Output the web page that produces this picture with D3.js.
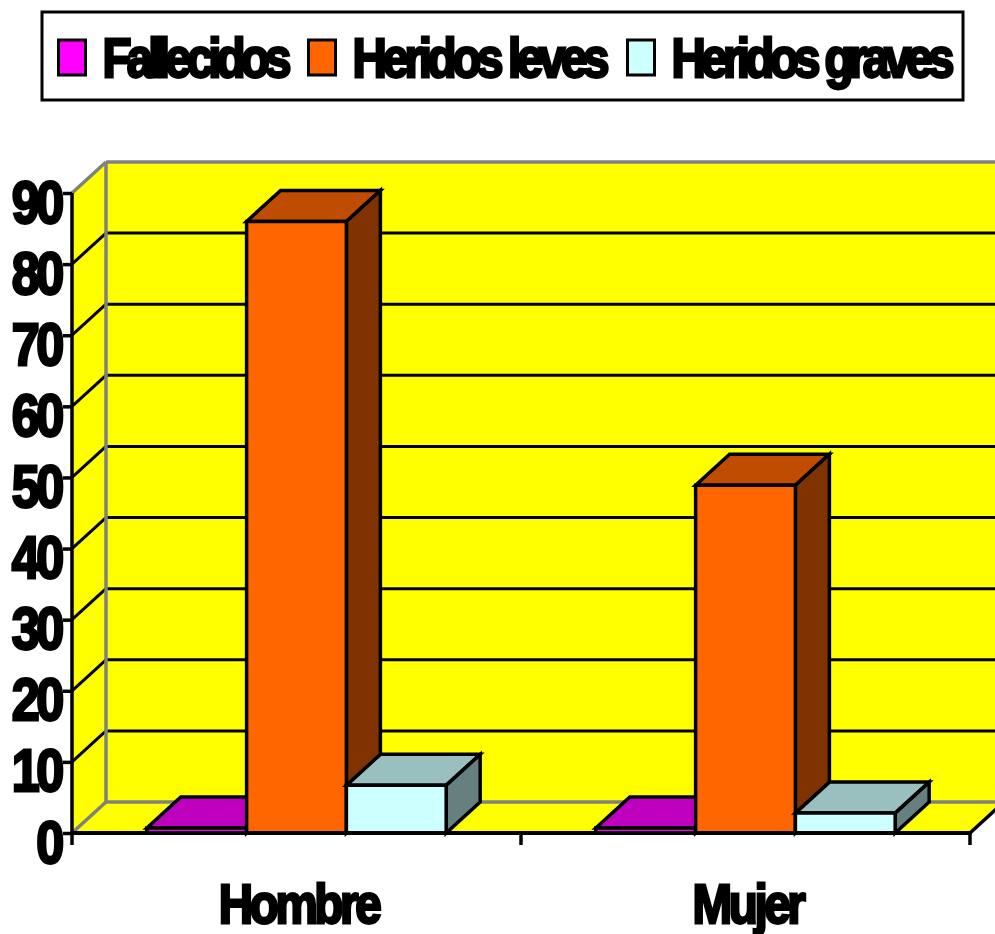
<!DOCTYPE html>
<html><head><meta charset="utf-8">
<script src="https://cdn.jsdelivr.net/npm/d3@7"></script>
<style>html,body{margin:0;padding:0;background:#fff}svg{display:block}
text{font-family:"Liberation Sans",Arial,sans-serif;font-weight:700;fill:#000;stroke:#000;stroke-width:2.8px;paint-order:stroke}</style>
</head><body><svg id="c" width="995" height="934"></svg>
<script>
const categories = ["Hombre","Mujer"];
const seriesNames = ["Fallecidos","Heridos leves","Heridos graves"];
const fallecidos = [0.7,0.7];
const heridosLeves = [86,48.9];
const heridosGraves = [6.7,2.8];
const yTicks = [0,10,20,30,40,50,60,70,80,90];
const seriesValues = [fallecidos,heridosLeves,heridosGraves];
const fronts = ["#FF00FF","#FF6600","#CCFFFF"];
const tops = ["#BF00BF","#BF4C00","#99BFBF"];
const sides = ["#800080","#803300","#668080"];

const svg = d3.select("#c");
const dx = 34, dy = -31;
const x0 = d3.scaleBand().domain(categories).range([72,970]);
const x1 = d3.scaleBand().domain(d3.range(3)).range([0,x0.bandwidth()]).paddingOuter(0.75).paddingInner(0);
const y = d3.scaleLinear().domain([0,90]).range([833,193]);
const poly = (g,pts,fill,stroke,sw)=>g.append("polygon").attr("points",pts.map(p=>p.join(",")).join(" "))
  .attr("fill",fill).attr("stroke",stroke).attr("stroke-width",sw).attr("stroke-linejoin","miter");
const line = (g,a,b,stroke,sw)=>g.append("line").attr("x1",a[0]).attr("y1",a[1]).attr("x2",b[0]).attr("y2",b[1]).attr("stroke",stroke).attr("stroke-width",sw);

// walls
const L=x0.range()[0], R=x0.range()[1], B=y(0), T=y(90);
const walls = svg.append("g");
poly(walls,[[L+dx,T+dy],[R+dx,T+dy],[R+dx,B+dy],[L+dx,B+dy]],"#FFFF00","none",0);
poly(walls,[[L,T],[L+dx,T+dy],[L+dx,B+dy],[L,B]],"#FFFF00","none",0);
poly(walls,[[L,B],[L+dx,B+dy],[R+dx,B+dy],[R,B]],"#FFFF00","none",0);
yTicks.filter(t=>t>0&&t<90).forEach(t=>{
  line(walls,[L,y(t)],[L+dx,y(t)+dy],"#000",3);
  line(walls,[L+dx,y(t)+dy],[R+dx,y(t)+dy],"#000",3);
});
line(walls,[L+dx,T+dy],[R+dx,T+dy],"#808080",3.5);
line(walls,[L+dx,T+dy],[L+dx,B+dy],"#808080",3.5);
line(walls,[L+dx,B+dy],[R+dx,B+dy],"#808080",3.5);
line(walls,[L,T],[L+dx,T+dy],"#808080",3.5);
line(walls,[L,B],[L+dx,B+dy],"#808080",3.5);
line(walls,[R,B],[R+dx,B+dy],"#000",3.5);

// bars
const bars = svg.append("g");
categories.forEach((c,ci)=>{
  seriesValues.forEach((vals,si)=>{
    const xa = x0(c)+x1(si), xb = xa+x1.bandwidth(), yt = y(vals[ci]);
    poly(bars,[[xa,yt],[xa+dx,yt+dy],[xb+dx,yt+dy],[xb,yt]],tops[si],"#000",3.5);
    poly(bars,[[xb,yt],[xb+dx,yt+dy],[xb+dx,B+dy],[xb,B]],sides[si],"#000",3.5);
    poly(bars,[[xa,yt],[xb,yt],[xb,B],[xa,B]],fronts[si],"#000",3.5);
  });
});

// axes
const yAxis = d3.axisLeft(y).tickValues(yTicks).tickSize(9);
const yg = svg.append("g").attr("transform",`translate(${L},0)`).call(yAxis);
yg.select(".domain").remove();
yg.selectAll("line").attr("stroke","#000").attr("stroke-width",3.5);
yg.selectAll("text").attr("dy",null).attr("x",0).attr("y",0).attr("font-size",60)
  .attr("transform","translate(-11,29) scale(.84,1)")
  .style("letter-spacing","-4px").attr("font-family",null);
line(svg,[L,T],[L,B+12],"#000",3.5);
line(svg,[L,B],[R,B],"#000",4);
categories.forEach(c=>line(svg,[x0(c)+x0.bandwidth(),B],[x0(c)+x0.bandwidth(),B+12],"#000",3.5));

const xAxis = d3.axisBottom(x0).tickSize(0).tickPadding(0);
const xg = svg.append("g").attr("transform",`translate(0,${B})`).call(xAxis);
xg.select(".domain").remove();
xg.selectAll("text").attr("dy",null).attr("y",0).attr("font-size",56)
  .attr("transform","translate(2,90) scale(.85,1)")
  .style("letter-spacing","-4px").attr("font-family",null);

// legend
const lg = svg.append("g");
lg.append("rect").attr("x",42).attr("y",12).attr("width",921).attr("height",88).attr("fill","#fff").attr("stroke","#000").attr("stroke-width",3);
const legendX = d3.scaleOrdinal().domain(seriesNames).range([58.5,308.5,627.5]);
const legendW = d3.scaleOrdinal().domain(seriesNames).range([189,257,283]);
const sx = 0.85;
seriesNames.forEach((n,i)=>{
  lg.append("rect").attr("x",legendX(n)).attr("y",40).attr("width",27).attr("height",35).attr("fill",fronts[i]).attr("stroke","#000").attr("stroke-width",3);
  lg.append("text").attr("transform",`translate(${legendX(n)+44},77) scale(${sx},1)`).attr("font-size",56)
    .attr("textLength",legendW(n)/sx).attr("lengthAdjust","spacing").text(n);
});
</script></body></html>
